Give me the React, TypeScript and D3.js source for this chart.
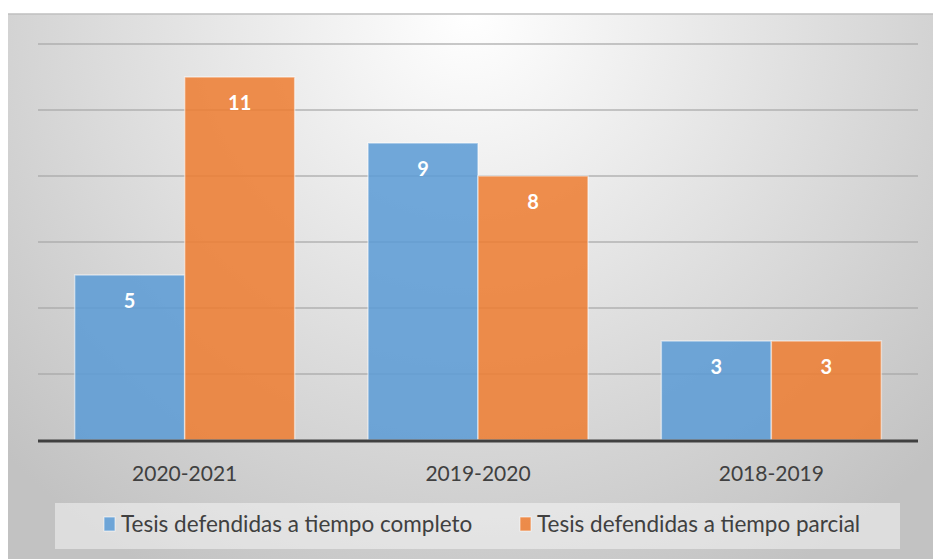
import { useEffect, useRef } from "react";
import * as d3 from "d3";

const categories = ["2020-2021", "2019-2020", "2018-2019"];
const seriesNames = ["Tesis defendidas a tiempo completo", "Tesis defendidas a tiempo parcial"];
const completo = [5, 9, 3];
const parcial = [11, 8, 3];
const gridTicks = [0, 2, 4, 6, 8, 10, 12];

const colors = ["#5b9bd5", "#ed7d31"];

export default function App() {
  const svgRef = useRef<SVGSVGElement | null>(null);

  useEffect(() => {
    if (!svgRef.current) return;
    const width = 933;
    const height = 559;
    const svg = d3.select(svgRef.current);
    svg.selectAll("*").remove();

    const font = "Lato, 'Open Sans', sans-serif";
    const left = 38, right = 918, top = 44, bottom = 440;

    const defs = svg.append("defs");
    const grad = defs.append("radialGradient")
      .attr("id", "bg")
      .attr("gradientUnits", "userSpaceOnUse")
      .attr("cx", 470).attr("cy", 14).attr("r", 640);
    grad.append("stop").attr("offset", "0%").attr("stop-color", "#ffffff");
    grad.append("stop").attr("offset", "100%").attr("stop-color", "#c2c2c2");

    // chart area
    svg.append("rect")
      .attr("x", 8).attr("y", 14)
      .attr("width", width - 8).attr("height", height - 14)
      .attr("fill", "url(#bg)");
    svg.append("line")
      .attr("x1", 8).attr("x2", width)
      .attr("y1", 14).attr("y2", 14)
      .attr("stroke", "#bfbfbf").attr("stroke-width", 1.5);

    const x0 = d3.scaleBand<string>().domain(categories).range([left, right]).paddingInner(0.25).paddingOuter(0.125);
    const x1 = d3.scaleBand<string>().domain(seriesNames).range([0, x0.bandwidth()]);
    const y = d3.scaleLinear().domain([0, 12]).range([bottom, top]);

    // gridlines
    svg.append("g")
      .selectAll("line")
      .data(gridTicks.slice(1))
      .join("line")
      .attr("x1", left).attr("x2", right)
      .attr("y1", d => y(d)).attr("y2", d => y(d))
      .attr("stroke", "#a6a6a6").attr("stroke-opacity", 0.8).attr("stroke-width", 1.5);

    const rows = categories.map((c, i) => ({ cat: c, vals: [completo[i], parcial[i]] }));

    const groups = svg.append("g")
      .selectAll("g")
      .data(rows)
      .join("g")
      .attr("transform", d => `translate(${x0(d.cat)},0)`);

    groups.selectAll("rect")
      .data(d => d.vals.map((v, k) => ({ v, k })))
      .join("rect")
      .attr("x", d => x1(seriesNames[d.k])!)
      .attr("y", d => y(d.v))
      .attr("width", x1.bandwidth())
      .attr("height", d => bottom - y(d.v))
      .attr("fill", d => colors[d.k])
      .attr("fill-opacity", 0.86)
      .attr("stroke", "#ffffff")
      .attr("stroke-opacity", 0.5)
      .attr("stroke-width", 1.5);

    groups.selectAll("text")
      .data(d => d.vals.map((v, k) => ({ v, k })))
      .join("text")
      .attr("x", d => x1(seriesNames[d.k])! + x1.bandwidth() / 2)
      .attr("y", d => y(d.v) + 33)
      .attr("text-anchor", "middle")
      .attr("fill", "#ffffff")
      .attr("font-family", font)
      .attr("font-weight", "bold")
      .attr("font-size", 20)
      .text(d => d.v);

    // baseline
    svg.append("line")
      .attr("x1", left).attr("x2", right)
      .attr("y1", bottom + 1).attr("y2", bottom + 1)
      .attr("stroke", "#404040").attr("stroke-width", 3);

    // category labels
    svg.append("g")
      .selectAll("text")
      .data(categories)
      .join("text")
      .attr("x", d => x0(d)! + x0.bandwidth() / 2)
      .attr("y", 481)
      .attr("text-anchor", "middle")
      .attr("fill", "#404040")
      .attr("font-family", font)
      .attr("font-size", 21)
      .text(d => d);

    // legend
    svg.append("rect")
      .attr("x", 55).attr("y", 503)
      .attr("width", 845).attr("height", 46)
      .attr("fill", "#ffffff").attr("fill-opacity", 0.45);

    const legendX = [104, 520];
    const lg = svg.append("g")
      .selectAll("g")
      .data(seriesNames)
      .join("g")
      .attr("transform", (d, i) => `translate(${legendX[i]},0)`);
    lg.append("rect")
      .attr("x", 0).attr("y", 517)
      .attr("width", 11).attr("height", 14)
      .attr("fill", (d, i) => colors[i])
      .attr("fill-opacity", 0.86)
      .attr("stroke", "#ffffff").attr("stroke-opacity", 0.6);
    lg.append("text")
      .attr("x", 17).attr("y", 532)
      .attr("fill", "#404040")
      .attr("font-family", font)
      .attr("font-size", 22.5)
      .text(d => d);
  }, []);

  return <svg ref={svgRef} width={933} height={559} style={{ position: "absolute", left: 0, top: 0 }} />;
}
